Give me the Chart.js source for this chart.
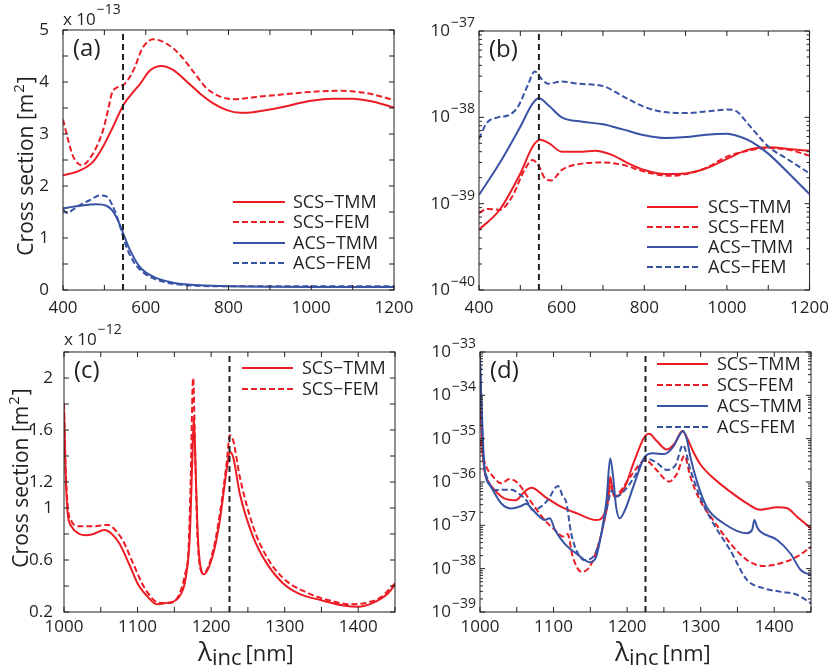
<!DOCTYPE html>
<html>
<head>
<meta charset="utf-8">
<script src="https://cdn.jsdelivr.net/npm/chart.js@4.4.1/dist/chart.umd.min.js"></script>
<style>
  body { margin: 0; background: #fff; }
  .panel { position: absolute; }
</style>
</head>
<body>
<div class="panel" style="left:0;top:0"><canvas id="pa" width="415" height="320"></canvas></div>
<div class="panel" style="left:415px;top:0"><canvas id="pb" width="414" height="320"></canvas></div>
<div class="panel" style="left:0;top:320px"><canvas id="pc" width="415" height="350"></canvas></div>
<div class="panel" style="left:415px;top:320px"><canvas id="pd" width="414" height="350"></canvas></div>
<script>
// (a) cross sections, units of 1e-13 m^2
const aScsTmmX = [400, 441, 473, 497, 521, 546, 570, 586, 610, 638, 667, 699, 731, 763, 796, 828, 860, 892, 925, 1000, 1050, 1100, 1150, 1200];
const aScsTmmY = [2.20, 2.30, 2.47, 2.76, 3.14, 3.56, 3.81, 3.96, 4.22, 4.31, 4.23, 4.01, 3.78, 3.59, 3.46, 3.41, 3.42, 3.46, 3.51, 3.64, 3.68, 3.68, 3.62, 3.51];
const aScsFemX = [400, 412, 425, 445, 473, 497, 510, 518, 534, 550, 574, 586, 598, 618, 650, 683, 715, 747, 780, 812, 844, 876, 917, 1000, 1060, 1100, 1150, 1200];
const aScsFemY = [3.28, 2.90, 2.56, 2.40, 2.63, 3.08, 3.50, 3.78, 3.91, 3.97, 4.29, 4.55, 4.72, 4.82, 4.74, 4.52, 4.20, 3.88, 3.72, 3.67, 3.69, 3.72, 3.75, 3.81, 3.83, 3.82, 3.76, 3.65];
const aAcsTmmX = [400, 440, 480, 505, 520, 535, 545, 560, 585, 617, 666, 730, 800, 1000, 1200];
const aAcsTmmY = [1.57, 1.62, 1.65, 1.62, 1.52, 1.30, 1.10, 0.80, 0.45, 0.26, 0.14, 0.09, 0.07, 0.06, 0.06];
const aAcsFemX = [400, 410, 425, 445, 465, 490, 505, 520, 535, 550, 565, 585, 617, 666, 730, 800, 1000, 1200];
const aAcsFemY = [1.55, 1.48, 1.55, 1.65, 1.73, 1.82, 1.80, 1.62, 1.30, 0.90, 0.62, 0.40, 0.23, 0.12, 0.08, 0.07, 0.07, 0.07];

// (b) cross sections, m^2 (log axis)
const bScsTmmX = [400, 450, 500, 530, 548, 570, 600, 650, 680, 720, 760, 800, 850, 900, 950, 1000, 1050, 1100, 1150, 1200];
const bScsTmmY = [5.0e-40, 8.5e-40, 2.24e-39, 4.6e-39, 5.5e-39, 5.0e-39, 4.0e-39, 4.0e-39, 4.1e-39, 3.7e-39, 2.95e-39, 2.45e-39, 2.2e-39, 2.24e-39, 2.57e-39, 3.3e-39, 4.2e-39, 4.5e-39, 4.3e-39, 4.1e-39];
const bScsFemX = [400, 420, 450, 480, 510, 530, 545, 560, 575, 600, 630, 700, 750, 800, 860, 900, 950, 1000, 1050, 1100, 1150, 1200];
const bScsFemY = [7.8e-40, 8.7e-40, 8.5e-40, 1.2e-39, 2.45e-39, 3.2e-39, 2.7e-39, 1.95e-39, 1.86e-39, 2.45e-39, 2.8e-39, 3.0e-39, 2.8e-39, 2.35e-39, 2.1e-39, 2.2e-39, 2.6e-39, 3.5e-39, 4.1e-39, 4.4e-39, 4.2e-39, 3.6e-39];
const bAcsTmmX = [400, 450, 500, 530, 545, 570, 600, 650, 700, 750, 800, 850, 900, 950, 1000, 1030, 1060, 1100, 1150, 1200];
const bAcsTmmY = [1.26e-39, 2.95e-39, 7.8e-39, 1.45e-38, 1.66e-38, 1.35e-38, 1.0e-38, 8.9e-39, 8.3e-39, 7.2e-39, 6.2e-39, 5.75e-39, 5.9e-39, 6.3e-39, 6.45e-39, 6.0e-39, 5.2e-39, 3.8e-39, 2.24e-39, 1.29e-39];
const bAcsFemX = [400, 418, 446, 470, 494, 518, 535, 551, 567, 600, 640, 700, 750, 800, 850, 900, 950, 1000, 1020, 1050, 1100, 1150, 1200];
const bAcsFemY = [5.6e-39, 8.5e-39, 1.0e-38, 1.05e-38, 1.32e-38, 2.35e-38, 3.4e-38, 2.8e-38, 2.45e-38, 2.6e-38, 2.45e-38, 2.3e-38, 1.74e-38, 1.32e-38, 1.15e-38, 1.12e-38, 1.17e-38, 1.23e-38, 1.2e-38, 8.5e-39, 4.6e-39, 3.2e-39, 2.24e-39];

// (c) scattering, units of 1e-12 m^2
const cScsTmmX = [1000, 1002, 1005, 1010, 1021, 1030, 1040, 1055, 1065, 1075, 1090, 1100, 1115, 1126, 1140, 1157, 1166.5, 1171, 1174.7, 1176.5, 1179, 1182, 1187, 1190, 1203, 1212, 1221, 1225.5, 1230, 1239, 1257, 1275, 1298, 1320, 1350, 1380, 1400, 1420, 1440, 1450];
const cScsTmmY = [1.75, 1.30, 0.96, 0.86, 0.80, 0.79, 0.80, 0.83, 0.80, 0.73, 0.55, 0.42, 0.31, 0.26, 0.27, 0.32, 0.50, 0.78, 1.42, 1.70, 1.29, 0.78, 0.51, 0.49, 0.65, 0.91, 1.29, 1.43, 1.39, 1.11, 0.78, 0.58, 0.42, 0.34, 0.29, 0.25, 0.24, 0.27, 0.34, 0.41];
const cScsFemX = [1000, 1002, 1005, 1010, 1020, 1040, 1060, 1068, 1080, 1095, 1110, 1130, 1145, 1157, 1165, 1169, 1172, 1175.6, 1178.3, 1181.5, 1187, 1190, 1203, 1212, 1221, 1225.5, 1230, 1239, 1257, 1275, 1298, 1330, 1360, 1390, 1410, 1430, 1450];
const cScsFemY = [1.80, 1.35, 1.02, 0.90, 0.86, 0.86, 0.87, 0.84, 0.75, 0.56, 0.38, 0.27, 0.27, 0.34, 0.50, 0.65, 1.16, 2.00, 1.42, 0.78, 0.51, 0.50, 0.68, 0.96, 1.34, 1.56, 1.52, 1.24, 0.86, 0.63, 0.46, 0.35, 0.29, 0.26, 0.27, 0.31, 0.42];

// (d) cross sections, m^2 (log axis)
const dScsTmmX = [1000, 1003, 1006, 1010, 1020, 1033, 1049, 1060, 1070, 1088, 1110, 1133, 1158, 1167, 1174, 1177, 1181, 1185, 1197, 1210, 1224, 1230, 1240, 1254, 1265, 1275, 1282, 1290, 1300, 1318, 1340, 1363, 1381, 1404, 1417, 1431, 1450];
const dScsTmmY = [1.0e-34, 7.9e-36, 1.86e-36, 1.12e-36, 6.5e-37, 4.2e-37, 3.8e-37, 5.9e-37, 7.4e-37, 4.6e-37, 2.7e-37, 1.86e-37, 1.32e-37, 1.58e-37, 3.8e-37, 1.32e-36, 5.4e-37, 4.6e-37, 7.8e-37, 3.16e-36, 1.12e-35, 1.29e-35, 8.9e-36, 5.6e-36, 7.9e-36, 1.51e-35, 1.0e-35, 5.0e-36, 2.5e-36, 1.2e-36, 6.0e-37, 3.2e-37, 2.3e-37, 2.6e-37, 2.5e-37, 1.58e-37, 8.5e-38];
const dScsFemX = [1000, 1006, 1018, 1029, 1040, 1052, 1063, 1074, 1088, 1102, 1113, 1119, 1126, 1138, 1149, 1160, 1172, 1177, 1183, 1192, 1206, 1225, 1240, 1257, 1268, 1278, 1286, 1299, 1317, 1340, 1363, 1385, 1408, 1431, 1450];
const dScsFemY = [9.3e-36, 2.95e-36, 1.32e-36, 9.3e-37, 1.17e-36, 9.3e-37, 5.0e-37, 2.7e-37, 1.32e-37, 7.8e-38, 5.5e-38, 6.3e-38, 1.9e-38, 8.5e-39, 1.1e-38, 3.16e-38, 2.24e-37, 7.8e-37, 4.6e-37, 6.5e-37, 1.45e-36, 3.16e-36, 1.9e-36, 1.02e-36, 1.58e-36, 4.0e-36, 1.32e-36, 3.8e-37, 1.32e-37, 3.9e-38, 1.58e-38, 1.15e-38, 1.32e-38, 1.9e-38, 3.2e-38];
const dAcsTmmX = [1000, 1003, 1006, 1015, 1029, 1043, 1056, 1063, 1072, 1081, 1088, 1095, 1102, 1115, 1133, 1149, 1158, 1165, 1172, 1177, 1181, 1185, 1190, 1197, 1210, 1224, 1235, 1250, 1263, 1270, 1276, 1281, 1286, 1295, 1308, 1331, 1363, 1370, 1373, 1377, 1381, 1404, 1422, 1436, 1450];
const dAcsTmmY = [6.3e-34, 2.5e-35, 2.24e-36, 7.8e-37, 3.2e-37, 2.45e-37, 2.8e-37, 3.16e-37, 2.24e-37, 1.58e-37, 1.32e-37, 1.45e-37, 7.8e-38, 3.8e-38, 2.1e-38, 1.41e-38, 1.9e-38, 6.5e-38, 3.8e-37, 3.55e-36, 1.32e-36, 2.7e-37, 1.45e-37, 2.24e-37, 9.3e-37, 3.8e-36, 4.6e-36, 4.4e-36, 6.6e-36, 1.12e-35, 1.51e-35, 1.0e-35, 3.8e-36, 1.02e-36, 2.7e-37, 1.12e-37, 6.6e-38, 7.9e-38, 1.32e-37, 8.9e-38, 7.2e-38, 4.6e-38, 2.24e-38, 9.3e-39, 7.1e-39];
const dAcsFemX = [1000, 1004, 1011, 1020, 1031, 1043, 1052, 1063, 1072, 1083, 1092, 1106, 1113, 1117, 1124, 1133, 1142, 1154, 1163, 1172, 1179, 1185, 1197, 1210, 1225, 1240, 1254, 1266, 1276, 1286, 1299, 1317, 1340, 1363, 1385, 1408, 1431, 1450];
const dAcsFemY = [7.9e-34, 5.5e-36, 1.12e-36, 6.5e-37, 6.6e-37, 6.6e-37, 5.5e-37, 3.8e-37, 2.24e-37, 2.7e-37, 3.8e-37, 8.1e-37, 4.5e-37, 3.55e-37, 6.5e-38, 2.24e-38, 1.58e-38, 1.9e-38, 4.6e-38, 2.24e-37, 6.3e-37, 4.6e-37, 6.5e-37, 1.32e-36, 3.5e-36, 2.8e-36, 1.9e-36, 2.5e-36, 7.1e-36, 1.9e-36, 4.6e-37, 1.12e-37, 2.7e-38, 5.5e-39, 3.55e-39, 2.95e-39, 2.5e-39, 1.58e-39];

// resonance wavelengths marked by the dashed black lines
const resonanceTop = 545;
const resonanceBottom = 1225;

const RED = '#ec1c24', BLUE = '#3953a4', INK = '#231f20';
const FONT = '"Open Sans", "DejaVu Sans", sans-serif';

function pts(xs, ys) {
    return xs.map((x, i) => ({ x: x, y: ys[i] }));
}

function series(label, xs, ys, color, dashed, order) {
    return {
        label: label, data: pts(xs, ys), borderColor: color, borderWidth: 2,
        borderDash: dashed ? [6, 3] : [], pointRadius: 0, fill: false,
        cubicInterpolationMode: 'monotone', order: order
    };
}

function marker(x, y0, y1) {
    return { data: [{ x: x, y: y0 }, { x: x, y: y1 }], borderColor: INK, borderWidth: 2, borderDash: [6, 4], pointRadius: 0, order: 0 };
}

// box, inward ticks, log labels, legend and titles, drawn the matlab way
const decor = {
    id: 'decor',
    afterDatasetsDraw(chart, args, o) {
        const ctx = chart.ctx, a = chart.chartArea, sx = chart.scales.x, sy = chart.scales.y;
        const seg = (x0, y0, x1, y1) => { ctx.beginPath(); ctx.moveTo(x0, y0); ctx.lineTo(x1, y1); ctx.stroke(); };
        ctx.save();
        ctx.strokeStyle = INK; ctx.lineWidth = 1; ctx.setLineDash([]);
        sx.ticks.forEach(t => {
            const p = sx.getPixelForValue(t.value);
            seg(p, a.bottom, p, a.bottom - 5); seg(p, a.top, p, a.top + 5);
        });
        ctx.fillStyle = INK;
        if (o.log) {
            const e0 = Math.round(Math.log10(sy.min)), e1 = Math.round(Math.log10(sy.max));
            for (let e = e0; e <= e1; e++) {
                for (let m = 1; m < 10; m++) {
                    if (e === e1 && m > 1) break;
                    const p = sy.getPixelForValue(m * Math.pow(10, e));
                    const len = m === 1 ? 5 : 3;
                    seg(a.left, p, a.left + len, p); seg(a.right, p, a.right - len, p);
                }
                const p = sy.getPixelForValue(Math.pow(10, e));
                const ex = '\u2212' + Math.abs(e);
                ctx.textAlign = 'right'; ctx.textBaseline = 'alphabetic';
                ctx.font = '14px ' + FONT;
                ctx.fillText(ex, a.left - 4, p - 4);
                const w = ctx.measureText(ex).width;
                ctx.font = '17px ' + FONT;
                ctx.fillText('10', a.left - 5 - w, p + 5);
            }
        } else {
            sy.ticks.forEach(t => {
                const p = sy.getPixelForValue(t.value);
                seg(a.left, p, a.left + 5, p); seg(a.right, p, a.right - 5, p);
            });
        }
        ctx.strokeRect(a.left, a.top, a.right - a.left, a.bottom - a.top);

        // multiplier above the axis
        if (o.power) {
            ctx.textAlign = 'left'; ctx.textBaseline = 'alphabetic';
            ctx.font = '17px ' + FONT;
            ctx.fillText('x 10', a.left, 25);
            const w = ctx.measureText('x 10').width;
            ctx.font = '14px ' + FONT;
            ctx.fillText(o.power, a.left + w + 1, 14);
        }

        // panel tag
        ctx.font = '24px ' + FONT; ctx.textAlign = 'left'; ctx.textBaseline = 'middle';
        ctx.fillText(o.tag, a.left + 10, a.top + 19);

        // legend
        const L = o.legend;
        chart.data.datasets.filter(d => d.label).forEach((d, i) => {
            const y = L.rows[i];
            ctx.strokeStyle = d.borderColor; ctx.lineWidth = 2; ctx.setLineDash(d.borderDash);
            seg(L.x0, y, L.x1, y);
            ctx.setLineDash([]);
            ctx.font = '18px ' + FONT; ctx.textBaseline = 'middle'; ctx.textAlign = 'left';
            ctx.fillText(d.label, L.tx, y + 1);
        });

        // y title
        if (o.yTitle) {
            ctx.save();
            ctx.translate(o.yTitle.x, o.yTitle.y); ctx.rotate(-Math.PI / 2);
            ctx.textAlign = 'left'; ctx.textBaseline = 'middle';
            ctx.font = '21px ' + FONT;
            const t1 = 'Cross section [m', t3 = ']';
            const w1 = ctx.measureText(t1).width, w3 = ctx.measureText(t3).width;
            ctx.font = '15px ' + FONT;
            const w2 = ctx.measureText('2').width;
            let x = -(w1 + w2 + w3) / 2;
            ctx.font = '21px ' + FONT; ctx.fillText(t1, x, 0); x += w1;
            ctx.font = '15px ' + FONT; ctx.fillText('2', x + 1, -7); x += w2 + 2;
            ctx.font = '21px ' + FONT; ctx.fillText(t3, x, 0);
            ctx.restore();
        }

        // x title
        if (o.xTitle) {
            let x = o.xTitle.x;
            const y = o.xTitle.y;
            ctx.textAlign = 'left'; ctx.textBaseline = 'alphabetic';
            ctx.font = '26px ' + FONT; ctx.fillText('\u03bb', x, y); x += ctx.measureText('\u03bb').width;
            ctx.font = '22px ' + FONT; ctx.fillText('inc', x, y + 4); x += ctx.measureText('inc').width + 4;
            ctx.font = '22px ' + FONT; ctx.fillText('[nm]', x, y);
        }
        ctx.restore();
    }
};

function makePanel(id, p) {
    const tickFont = { family: FONT, size: 17 };
    return new Chart(document.getElementById(id), {
        type: 'line',
        data: { datasets: p.datasets },
        options: {
            responsive: false, animation: false,
            layout: { padding: { top: p.top, right: p.right, left: 0, bottom: 0 } },
            plugins: { legend: { display: false }, tooltip: { enabled: false }, decor: p.decor },
            scales: {
                x: {
                    type: 'linear', min: p.xMin, max: p.xMax,
                    grid: { display: false }, border: { display: false },
                    ticks: {
                        stepSize: p.xStep, autoSkip: false, maxRotation: 0, padding: p.xPad,
                        color: INK, font: tickFont,
                        callback: v => (v % p.xLabelEvery === 0 ? String(v) : '')
                    },
                    afterFit: s => { s.height = p.xHeight; }
                },
                y: p.yScale
            }
        },
        plugins: [decor]
    });
}

function linearY(min, max, step, shown, pad, width) {
    return {
        type: 'linear', min: min, max: max,
        grid: { display: false }, border: { display: false },
        ticks: {
            stepSize: step, autoSkip: false, padding: pad, color: INK, font: { family: FONT, size: 17 },
            callback: v => (shown.some(s => Math.abs(s - v) < 1e-6) ? String(+v.toFixed(1)) : '')
        },
        afterFit: s => { s.width = width; }
    };
}

function logY(min, max, width) {
    return {
        type: 'logarithmic', min: min, max: max,
        grid: { display: false }, border: { display: false },
        ticks: { display: false },
        afterFit: s => { s.width = width; }
    };
}

makePanel('pa', {
    top: 30, right: 21, xHeight: 30, xPad: 0,
    xMin: 400, xMax: 1200, xStep: 100, xLabelEvery: 200,
    yScale: linearY(0, 5, 0.5, [0, 1, 2, 3, 4, 5], 6, 63),
    datasets: [
        series('SCS\u2212TMM', aScsTmmX, aScsTmmY, RED, false, 4),
        series('SCS\u2212FEM', aScsFemX, aScsFemY, RED, true, 3),
        series('ACS\u2212TMM', aAcsTmmX, aAcsTmmY, BLUE, false, 2),
        series('ACS\u2212FEM', aAcsFemX, aAcsFemY, BLUE, true, 1),
        marker(resonanceTop, 0, 5)
    ],
    decor: {
        tag: '(a)', power: '\u221213', yTitle: { x: 27, y: 167 },
        legend: { x0: 233, x1: 285, tx: 293, rows: [202, 222, 243, 263] }
    }
});

makePanel('pb', {
    top: 31, right: 19, xHeight: 30, xPad: 0,
    xMin: 400, xMax: 1200, xStep: 100, xLabelEvery: 200,
    yScale: logY(1e-40, 1e-37, 64),
    datasets: [
        series('SCS\u2212TMM', bScsTmmX, bScsTmmY, RED, false, 4),
        series('SCS\u2212FEM', bScsFemX, bScsFemY, RED, true, 3),
        series('ACS\u2212TMM', bAcsTmmX, bAcsTmmY, BLUE, false, 2),
        series('ACS\u2212FEM', bAcsFemX, bAcsFemY, BLUE, true, 1),
        marker(resonanceTop, 1e-40, 1e-37)
    ],
    decor: {
        tag: '(b)', log: true,
        legend: { x0: 232, x1: 283, tx: 293, rows: [207, 227, 247, 267] }
    }
});

makePanel('pc', {
    top: 32, right: 20, xHeight: 58, xPad: -3,
    xMin: 1000, xMax: 1450, xStep: 50, xLabelEvery: 100,
    yScale: linearY(0.2, 2.2, 0.2, [0.2, 0.6, 1, 1.2, 1.6, 2], 3, 64),
    datasets: [
        series('SCS\u2212TMM', cScsTmmX, cScsTmmY, RED, false, 4),
        series('SCS\u2212FEM', cScsFemX, cScsFemY, RED, true, 3),
        marker(resonanceBottom, 0.2, 2.2)
    ],
    decor: {
        tag: '(c)', power: '\u221212', yTitle: { x: 22, y: 159 }, xTitle: { x: 198, y: 341 },
        legend: { x0: 242, x1: 293, tx: 302, rows: [48, 69] }
    }
});

makePanel('pd', {
    top: 32, right: 18, xHeight: 58, xPad: -3,
    xMin: 1000, xMax: 1450, xStep: 50, xLabelEvery: 100,
    yScale: logY(1e-39, 1e-33, 65),
    datasets: [
        series('SCS\u2212TMM', dScsTmmX, dScsTmmY, RED, false, 4),
        series('SCS\u2212FEM', dScsFemX, dScsFemY, RED, true, 3),
        series('ACS\u2212TMM', dAcsTmmX, dAcsTmmY, BLUE, false, 2),
        series('ACS\u2212FEM', dAcsFemX, dAcsFemY, BLUE, true, 1),
        marker(resonanceBottom, 1e-39, 1e-33)
    ],
    decor: {
        tag: '(d)', log: true, xTitle: { x: 200, y: 341 },
        legend: { x0: 242, x1: 293, tx: 302, rows: [44, 65, 86, 107] }
    }
});
</script>
</body>
</html>
